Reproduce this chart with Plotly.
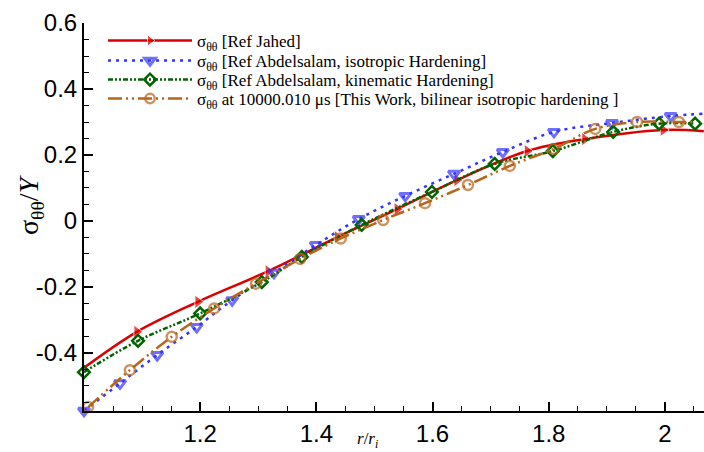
import plotly.graph_objects as go

# ---------------- data ----------------
jahed_x = [1.0, 1.091, 1.196, 1.317, 1.436, 1.539, 1.642, 1.763, 1.862, 1.997, 2.067]
jahed_y = [-0.445, -0.336, -0.245, -0.152, -0.049, 0.036, 0.124, 0.212, 0.248, 0.276, 0.272]
jahed_mk = [0, 12, 12, 12, 12, 12, 12, 12, 12, 12, 0]

iso_x = [1.0, 1.062, 1.126, 1.194, 1.255, 1.327, 1.399, 1.473, 1.553, 1.637, 1.721, 1.809, 1.909, 2.01, 2.067]
iso_y = [-0.575, -0.492, -0.406, -0.321, -0.24, -0.157, -0.073, 0.006, 0.076, 0.143, 0.209, 0.27, 0.297, 0.318, 0.325]
iso_mk = [10, 10, 10, 10, 10, 10, 10, 10, 10, 10, 10, 10, 10, 10, 0]

kin_x = [1.0, 1.093, 1.2, 1.306, 1.375, 1.478, 1.599, 1.707, 1.807, 1.911, 1.99, 2.052]
kin_y = [-0.458, -0.363, -0.28, -0.185, -0.109, -0.012, 0.088, 0.173, 0.212, 0.27, 0.295, 0.295]

work_x = [1.007, 1.079, 1.151, 1.224, 1.296, 1.372, 1.442, 1.515, 1.587, 1.661, 1.733, 1.808, 1.88, 1.952, 2.024, 2.05]
work_y = [-0.564, -0.452, -0.351, -0.265, -0.19, -0.115, -0.053, 0.003, 0.054, 0.109, 0.167, 0.218, 0.279, 0.30, 0.30, 0.30]
work_mk = [10] * 15 + [0]

names = [
    "σ<sub>θθ</sub> [Ref Jahed]",
    "σ<sub>θθ</sub> [Ref Abdelsalam, isotropic Hardening]",
    "σ<sub>θθ</sub> [Ref Abdelsalam, kinematic Hardening]",
    "σ<sub>θθ</sub> at 10000.010 μs [This Work, bilinear isotropic hardening ]",
]

x_tickvals = [1.2, 1.4, 1.6, 1.8, 2.0]
x_ticktext = ["1.2", "1.4", "1.6", "1.8", "2"]
y_tickvals = [-0.4, -0.2, 0, 0.2, 0.4, 0.6]
y_ticktext = ["-0.4", "-0.2", "0", "0.2", "0.4", "0.6"]

# ---------------- layout geometry ----------------
W, H = 704, 452
ML, MR, MT, MB = 84, 0, 23, 41
PW, PH = W - ML - MR, H - MT - MB

RED = "#dd0000"
BLUE = "#3333ff"
GREEN = "#006400"
ORANGE = "#b8651b"

fig = go.Figure()

fig.add_trace(go.Scatter(
    x=jahed_x, y=jahed_y, name=names[0], mode="lines+markers", legend="legend",
    line=dict(color=RED, width=2.5, shape="spline"),
    marker=dict(symbol="triangle-right", size=jahed_mk, color=RED),
    cliponaxis=False,
))
fig.add_trace(go.Scatter(
    x=iso_x, y=iso_y, name=names[1], mode="lines+markers", legend="legend2",
    line=dict(color=BLUE, width=2.5, dash="3px,5px", shape="spline"),
    marker=dict(symbol="triangle-down-open", size=iso_mk, color=BLUE, line=dict(width=3, color=BLUE)),
    cliponaxis=False,
))
fig.add_trace(go.Scatter(
    x=kin_x, y=kin_y, name=names[2], mode="lines+markers", legend="legend3",
    line=dict(color=GREEN, width=2.5, dash="5px,2px,2px,2px,2px,2px", shape="spline"),
    marker=dict(symbol="diamond-open", size=9, color=GREEN, line=dict(width=2.5, color=GREEN)),
    cliponaxis=False,
))
fig.add_trace(go.Scatter(
    x=work_x, y=work_y, name=names[3], mode="lines+markers", legend="legend4",
    line=dict(color=ORANGE, width=2.5, dash="14px,4px,2px,4px,2px,4px", shape="spline"),
    marker=dict(symbol="circle-open", size=work_mk, color=ORANGE, line=dict(width=2.5, color=ORANGE)),
    cliponaxis=False,
))

def px_x(p):
    return (p - ML) / PW

def px_y(p):
    return (H - MB - p) / PH

leg_font = dict(family="Liberation Serif, Times New Roman, serif", size=17, color="black")
row_px = [41, 61, 80, 99]
legends = {}
for i, key in enumerate(["legend", "legend2", "legend3", "legend4"]):
    legends[key] = dict(
        x=px_x(103), y=px_y(row_px[i]), xanchor="left", yanchor="middle",
        bgcolor="rgba(0,0,0,0)", borderwidth=0, font=leg_font, itemwidth=84,
    )

axis_common = dict(
    showline=True, linecolor="black", linewidth=2, mirror=False,
    showgrid=False, zeroline=False,
    ticks="inside", ticklen=9, tickwidth=1.5, tickcolor="black",
    tickfont=dict(family="Liberation Sans, Arial, sans-serif", size=24, color="black"),
)

fig.update_layout(
    width=W, height=H,
    margin=dict(l=ML, r=MR, t=MT, b=MB, autoexpand=False),
    paper_bgcolor="white", plot_bgcolor="white",
    showlegend=True,
    xaxis=dict(
        range=[1.0, 2.0673], tickmode="array", tickvals=x_tickvals, ticktext=x_ticktext,
        minor=dict(tickmode="linear", tick0=1.0, dtick=0.05, ticks="inside", ticklen=5,
                   tickwidth=1.2, tickcolor="black"),
        **axis_common,
    ),
    yaxis=dict(
        range=[-0.5758, 0.6], tickmode="array", tickvals=y_tickvals, ticktext=y_ticktext,
        minor=dict(tickmode="linear", tick0=0, dtick=0.05, ticks="inside", ticklen=5,
                   tickwidth=1.2, tickcolor="black"),
        **axis_common,
    ),
    annotations=[
        dict(text="σ<sub>θθ</sub>/<i>Y</i>", xref="paper", yref="paper",
             x=px_x(30), y=px_y(205), xanchor="center", yanchor="middle",
             textangle=-90, showarrow=False,
             font=dict(family="Liberation Serif, Times New Roman, serif", size=28, color="black")),
        dict(text="<i>r</i>/<i>r<sub>i</sub></i>", xref="paper", yref="paper",
             x=px_x(367), y=px_y(440), xanchor="center", yanchor="middle", showarrow=False,
             font=dict(family="Liberation Serif, Times New Roman, serif", size=17, color="black")),
    ],
    **legends,
)

fig.write_html(
    "out.html",
    config={"displayModeBar": False},
    post_script="document.body.style.margin='0px';document.body.style.padding='0px';",
)
